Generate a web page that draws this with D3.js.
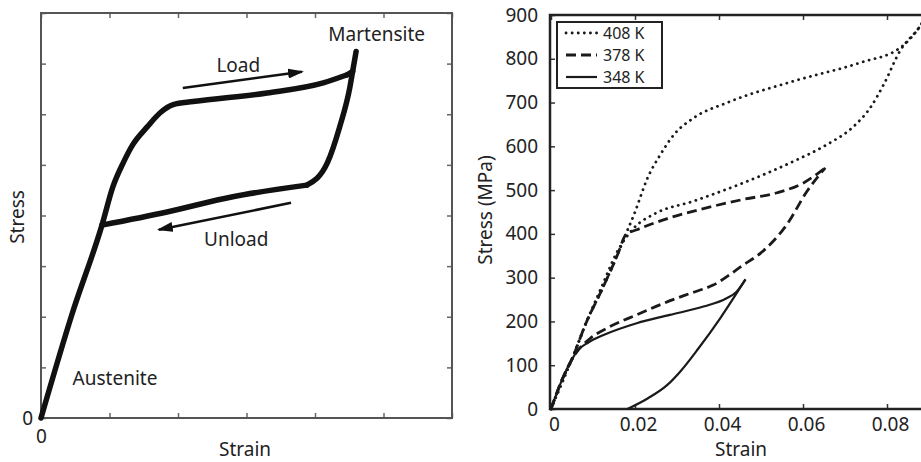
<!DOCTYPE html>
<html>
<head>
<meta charset="utf-8">
<script src="https://cdnjs.cloudflare.com/ajax/libs/d3/7.8.5/d3.min.js"></script>
<style>
  body { margin: 0; background: #fff; }
  svg { display: block; font-family: "Noto Sans", sans-serif; }
</style>
</head>
<body>
<script>
// left panel: schematic loop, arbitrary units
var schemLoad = [[0,0],[0.45,2.04],[0.89,3.81],[1.05,4.57],[1.20,5.04],[1.34,5.40],[1.55,5.75],[1.74,6.03],
  [1.93,6.19],[2.22,6.25],[3.30,6.42],[4.12,6.62],[4.47,6.78]]
var schemUnload = [[4.60,7.24],[4.55,6.85],[4.51,6.54],[4.36,5.75],[4.18,5.04],[3.88,4.60]]
var schemPlateau = [[3.88,4.60],[2.80,4.37],[1.84,4.07],[0.89,3.81]]
var schemArrows = [
  {from: [2.07,6.52], to: [3.81,6.84]},
  {from: [3.65,4.25], to: [1.72,3.72]}
]
var schemLabels = [
  {text: "Martensite", x: 4.90, y: 7.45},
  {text: "Load", x: 2.88, y: 6.83},
  {text: "Unload", x: 2.85, y: 3.40},
  {text: "Austenite", x: 1.08, y: 0.65}
]

// right panel: stress-strain loops
var strainTicks = [0, 0.02, 0.04, 0.06, 0.08]
var stressTicks = [0,100,200,300,400,500,600,700,800,900]
var temps = ["408 K", "378 K", "348 K"]
var load408 = [[0,0],[0.0026,66],[0.0049,112],[0.0085,200],[0.0121,272],[0.016,356],[0.0175,392],[0.0198,445],
  [0.023,528],[0.0261,582],[0.0293,627],[0.034,665],[0.042,700],[0.0578,749],[0.0736,791],[0.0831,825],
  [0.0879,875],[0.0895,900]]
var unload408 = [[0.0895,900],[0.0879,875],[0.0831,818],[0.0792,741],[0.076,688],[0.072,645],[0.0657,604],
  [0.0578,566],[0.0459,517],[0.034,475],[0.0245,445],[0.0198,414],[0.0158,360],[0.0121,280],[0.0085,200],
  [0.0049,112],[0,0]]
var load378 = [[0,0],[0.0026,66],[0.0049,112],[0.0085,200],[0.0121,272],[0.016,356],[0.0178,398],[0.0206,410],
  [0.0277,435],[0.0356,456],[0.0459,479],[0.0539,494],[0.0602,517],[0.0653,551]]
var unload378 = [[0.0653,551],[0.061,498],[0.0562,422],[0.0499,356],[0.0458,329],[0.0386,283],[0.0331,264],
  [0.0267,241],[0.0204,215],[0.014,188],[0.0093,161],[0.0065,135],[0.0049,112],[0.0026,66],[0,0]]
var load348 = [[0,0],[0.0026,66],[0.0049,112],[0.0065,135],[0.0089,152],[0.0125,169],[0.0204,196],
  [0.0283,215],[0.0363,234],[0.0418,253],[0.0442,268],[0.0463,296]]
var unload348 = [[0.0463,296],[0.0404,209],[0.0350,137],[0.0309,87],[0.0277,55],[0.023,24],[0.0182,0]]

var dashes = {"408 K": "0.1 6", "378 K": "10 5", "348 K": null}
var widths = {"408 K": 2.8, "378 K": 2.8, "348 K": 2.2}
var series = [
  {t: "408 K", pts: [load408, unload408]},
  {t: "378 K", pts: [load378, unload378]},
  {t: "348 K", pts: [load348, unload348]}
]

function byX(p) {
  return p.slice().sort(function(a, b) { return a[0] - b[0] })
}

var svg = d3.select("body").append("svg")
  .attr("width", 921)
  .attr("height", 462)

svg.append("defs").append("marker")
  .attr("id", "arr")
  .attr("viewBox", "0 0 16 10")
  .attr("refX", 14).attr("refY", 5)
  .attr("markerWidth", 6.4).attr("markerHeight", 4)
  .attr("markerUnits", "strokeWidth")
  .attr("orient", "auto")
  .append("path").attr("d", "M0,0 L16,5 L0,10 Z").attr("fill", "#111")

// ---------- left panel ----------
var lx = d3.scaleLinear().domain([0, 6]).range([41, 452])
var ly = d3.scaleLinear().domain([0, 8]).range([418, 13])
var left = svg.append("g")

function inAxis(ax, sc, tr, fmt, pad) {
  return left.append("g").attr("transform", tr)
    .call(ax(sc).tickValues(sc.ticks(sc === lx ? 6 : 8)).tickSizeInner(-5).tickSizeOuter(0)
      .tickPadding(pad).tickFormat(fmt))
}
var noLab = function() { return "" }
var zeroLab = function(d) { return d === 0 ? "0" : "" }
inAxis(d3.axisBottom, lx, "translate(0,418)", zeroLab, 12)
inAxis(d3.axisTop, lx, "translate(0,13)", noLab, 3)
inAxis(d3.axisLeft, ly, "translate(41,0)", zeroLab, 8)
inAxis(d3.axisRight, ly, "translate(452,0)", noLab, 3)
left.selectAll(".domain").remove()
left.selectAll(".tick line").attr("stroke", "#666").attr("stroke-width", 1.5)
left.selectAll(".tick text").attr("font-size", 19).attr("fill", "#222")
  .attr("font-family", "Noto Sans")
left.append("rect")
  .attr("x", 41).attr("y", 13).attr("width", 411).attr("height", 405)
  .attr("fill", "none").attr("stroke", "#555").attr("stroke-width", 2)

var lline = d3.line().x(function(d) { return lx(d[0]) }).y(function(d) { return ly(d[1]) })
  .curve(d3.curveMonotoneX)
;[schemLoad, schemUnload, schemPlateau].forEach(function(p) {
  left.append("path").attr("d", lline(byX(p)))
    .attr("fill", "none").attr("stroke", "#111").attr("stroke-width", 5.5)
    .attr("stroke-linecap", "round").attr("stroke-linejoin", "round")
})
// tip stub
left.append("path").attr("d", lline([schemLoad[schemLoad.length - 1], schemUnload[1]]))
  .attr("fill", "none").attr("stroke", "#111").attr("stroke-width", 5.5).attr("stroke-linecap", "round")

left.selectAll(".arrow").data(schemArrows).enter().append("line")
  .attr("x1", function(d) { return lx(d.from[0]) })
  .attr("y1", function(d) { return ly(d.from[1]) })
  .attr("x2", function(d) { return lx(d.to[0]) })
  .attr("y2", function(d) { return ly(d.to[1]) })
  .attr("stroke", "#111").attr("stroke-width", 2.5)
  .attr("marker-end", "url(#arr)")

left.selectAll(".lab").data(schemLabels).enter().append("text")
  .attr("x", function(d) { return lx(d.x) })
  .attr("y", function(d) { return ly(d.y) })
  .attr("text-anchor", "middle")
  .attr("font-size", 19).attr("fill", "#222")
  .text(function(d) { return d.text })

left.append("text").attr("x", 245).attr("y", 456).attr("text-anchor", "middle")
  .attr("font-size", 19).attr("fill", "#222").text("Strain")
left.append("text").attr("transform", "translate(24,217) rotate(-90)").attr("text-anchor", "middle")
  .attr("font-size", 19).attr("fill", "#222").text("Stress")

// ---------- right panel ----------
var rx = d3.scaleLinear().domain([0, 0.09]).range([551, 929])
var ry = d3.scaleLinear().domain([0, 900]).range([409, 15])
var right = svg.append("g")

var xAx = right.append("g").attr("transform", "translate(0,409)")
  .call(d3.axisBottom(rx).tickValues(strainTicks).tickSizeInner(-5).tickSizeOuter(0).tickPadding(9)
    .tickFormat(function(d) { return d === 0 ? "0" : d3.format(".2f")(d) }))
right.append("g").attr("transform", "translate(0,15)")
  .call(d3.axisTop(rx).tickValues(strainTicks).tickSizeInner(-5).tickSizeOuter(0).tickFormat(noLab))
right.append("g").attr("transform", "translate(550,0)")
  .call(d3.axisLeft(ry).tickValues(stressTicks).tickSizeInner(-5).tickSizeOuter(0).tickPadding(12))
right.selectAll(".domain").remove()
right.selectAll(".tick line").attr("stroke", "#333").attr("stroke-width", 1.5)
right.selectAll(".tick text").attr("font-size", 19).attr("fill", "#222")
  .attr("font-family", "Noto Sans")
xAx.selectAll(".tick text").attr("dx", 3)
right.append("rect")
  .attr("x", 550).attr("y", 15).attr("width", 380).attr("height", 394)
  .attr("fill", "none").attr("stroke", "#222").attr("stroke-width", 2.5)

var rline = d3.line().x(function(d) { return rx(d[0]) }).y(function(d) { return ry(d[1]) })
  .curve(d3.curveMonotoneX)
series.forEach(function(s) {
  s.pts.forEach(function(p) {
    right.append("path").attr("d", rline(byX(p)))
      .attr("fill", "none").attr("stroke", "#1a1a1a")
      .attr("stroke-width", widths[s.t])
      .attr("stroke-dasharray", dashes[s.t])
      .attr("stroke-linecap", s.t === "408 K" ? "round" : "butt")
  })
})

// legend
var leg = right.append("g").attr("transform", "translate(557,22)")
leg.append("rect").attr("width", 105).attr("height", 66)
  .attr("fill", "#fff").attr("stroke", "#222").attr("stroke-width", 2)
var items = leg.selectAll(".item").data(temps).enter().append("g")
  .attr("transform", function(d, i) { return "translate(0," + (11 + i * 22) + ")" })
items.append("line").attr("x1", 9).attr("x2", 40)
  .attr("stroke", "#1a1a1a")
  .attr("stroke-width", function(d) { return widths[d] })
  .attr("stroke-dasharray", function(d) { return dashes[d] })
  .attr("stroke-linecap", function(d) { return d === "408 K" ? "round" : "butt" })
items.append("text").attr("x", 46).attr("dy", "0.35em")
  .attr("font-size", 16).attr("fill", "#222").text(function(d) { return d })

right.append("text").attr("x", 741).attr("y", 456).attr("text-anchor", "middle")
  .attr("font-size", 19).attr("fill", "#222").text("Strain")
right.append("text").attr("transform", "translate(492,210) rotate(-90)").attr("text-anchor", "middle")
  .attr("font-size", 19).attr("fill", "#222").text("Stress (MPa)")
</script>
</body>
</html>
